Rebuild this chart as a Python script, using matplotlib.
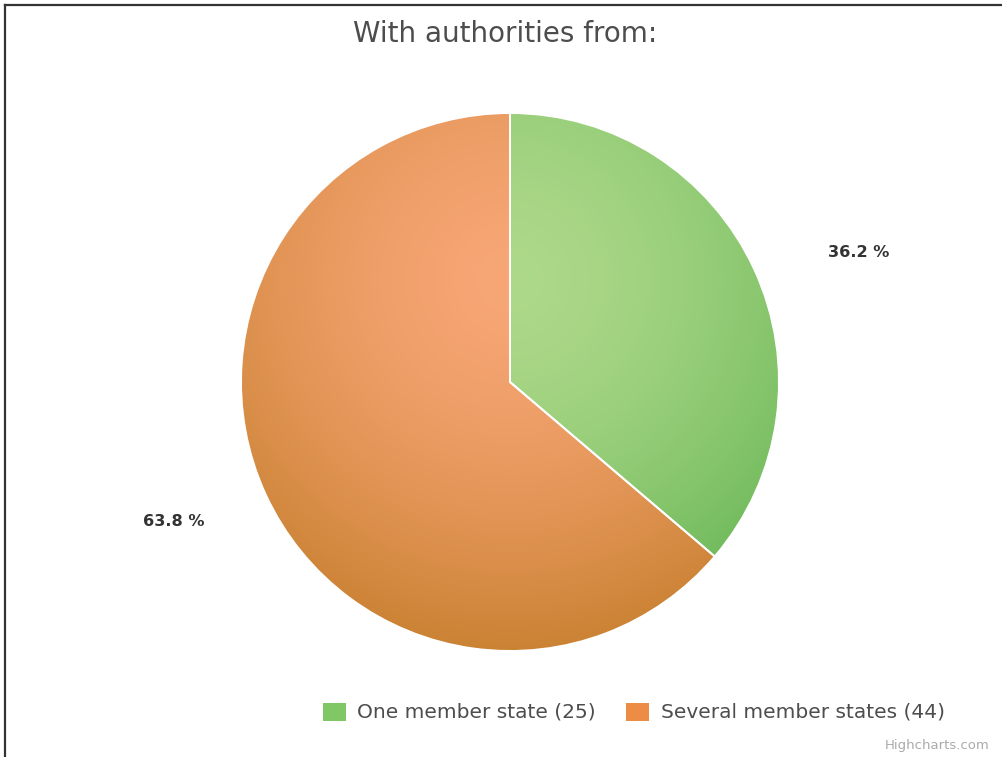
import numpy as np
import matplotlib
matplotlib.use("Agg")
import matplotlib.pyplot as plt
from matplotlib.lines import Line2D
from matplotlib.patches import Rectangle, Wedge

# ---- data ----
categories = ["One member state", "Several member states"]
counts = [25, 44]
pct_labels = ["36.2 %", "63.8 %"]
title = "With authorities from:"
credit = "Highcharts.com"

# ---- style ----
light_cols = [(0.68, 0.85, 0.54), (0.97, 0.65, 0.46)]
dark_cols = [(0.40, 0.71, 0.33), (0.78, 0.50, 0.18)]
legend_cols = [(0.50, 0.78, 0.40), (0.93, 0.55, 0.27)]

W, H = 1003, 757
fig = plt.figure(figsize=(W / 100, H / 100), dpi=100)
cx, cy, R = 510, 382, 269
ax = fig.add_axes([0, 0, 1, 1])

wedges, _ = ax.pie(counts, startangle=90, counterclock=False, radius=1,
                   colors=[legend_cols[0], legend_cols[1]],
                   wedgeprops=dict(edgecolor="white", linewidth=1.4))
ax.set_aspect("auto")
ax.set_xlim(-cx / R, (W - cx) / R)
ax.set_ylim(-(H - cy) / R, cy / R)
ax.axis("off")

# radial gradient fill clipped to each wedge
n = 400
xs = np.linspace(-1.02, 1.02, n)
ys = np.linspace(-1.02, 1.02, n)
X, Y = np.meshgrid(xs, ys)
dist = np.sqrt((X - 0.0) ** 2 + (Y - 0.38) ** 2)
t = (np.clip(dist / 1.45, 0, 1) ** 1.6)[..., None]
for w, lc, dc in zip(wedges, light_cols, dark_cols):
    img = (1 - t) * np.array(lc) + t * np.array(dc)
    im = ax.imshow(img, extent=(-1.02, 1.02, -1.02, 1.02), origin="lower",
                   zorder=2, interpolation="bilinear")
    im.set_clip_path(w)
    ax.add_patch(Wedge(w.center, w.r, w.theta1, w.theta2, fill=False,
                       edgecolor="white", linewidth=1.4, zorder=3))

# percentage labels
label_pos = [(1.297, 0.48), (-1.249, -0.52)]
for (lx, ly), txt in zip(label_pos, pct_labels):
    ax.text(lx, ly, txt, ha="center", va="center", fontsize=11.6,
            fontweight="bold", color="#333333", family="DejaVu Sans", zorder=4)

# title
fig.text(505 / W, 1 - 34 / H, title, ha="center", va="center",
         fontsize=20, color="#4d4d4d", family="DejaVu Sans")

# legend (manual, matching Highcharts layout)
leg_y = 712
items = [(323, 357), (626, 661)]
for (sx, tx), c, name, v in zip(items, legend_cols, categories, counts):
    fig.patches.append(Rectangle((sx / W, 1 - (leg_y + 9) / H), 23 / W, 18 / H,
                                 transform=fig.transFigure, facecolor=c,
                                 edgecolor="none", figure=fig))
    fig.text(tx / W, 1 - leg_y / H, f"{name} ({v})", ha="left", va="center",
             fontsize=14.5, color="#4d4d4d", family="DejaVu Sans")

fig.text(990 / W, 1 - 745 / H, credit, ha="right", va="center",
         fontsize=9.5, color="#aaaaaa")

# frame lines (top and left)
fig.add_artist(Line2D([5 / W, 1], [1 - 5 / H, 1 - 5 / H], transform=fig.transFigure,
                      color="#333333", linewidth=1.6))
fig.add_artist(Line2D([5 / W, 5 / W], [0, 1 - 5 / H], transform=fig.transFigure,
                      color="#333333", linewidth=1.6))

fig.savefig("out.png", dpi=100, facecolor="white")
